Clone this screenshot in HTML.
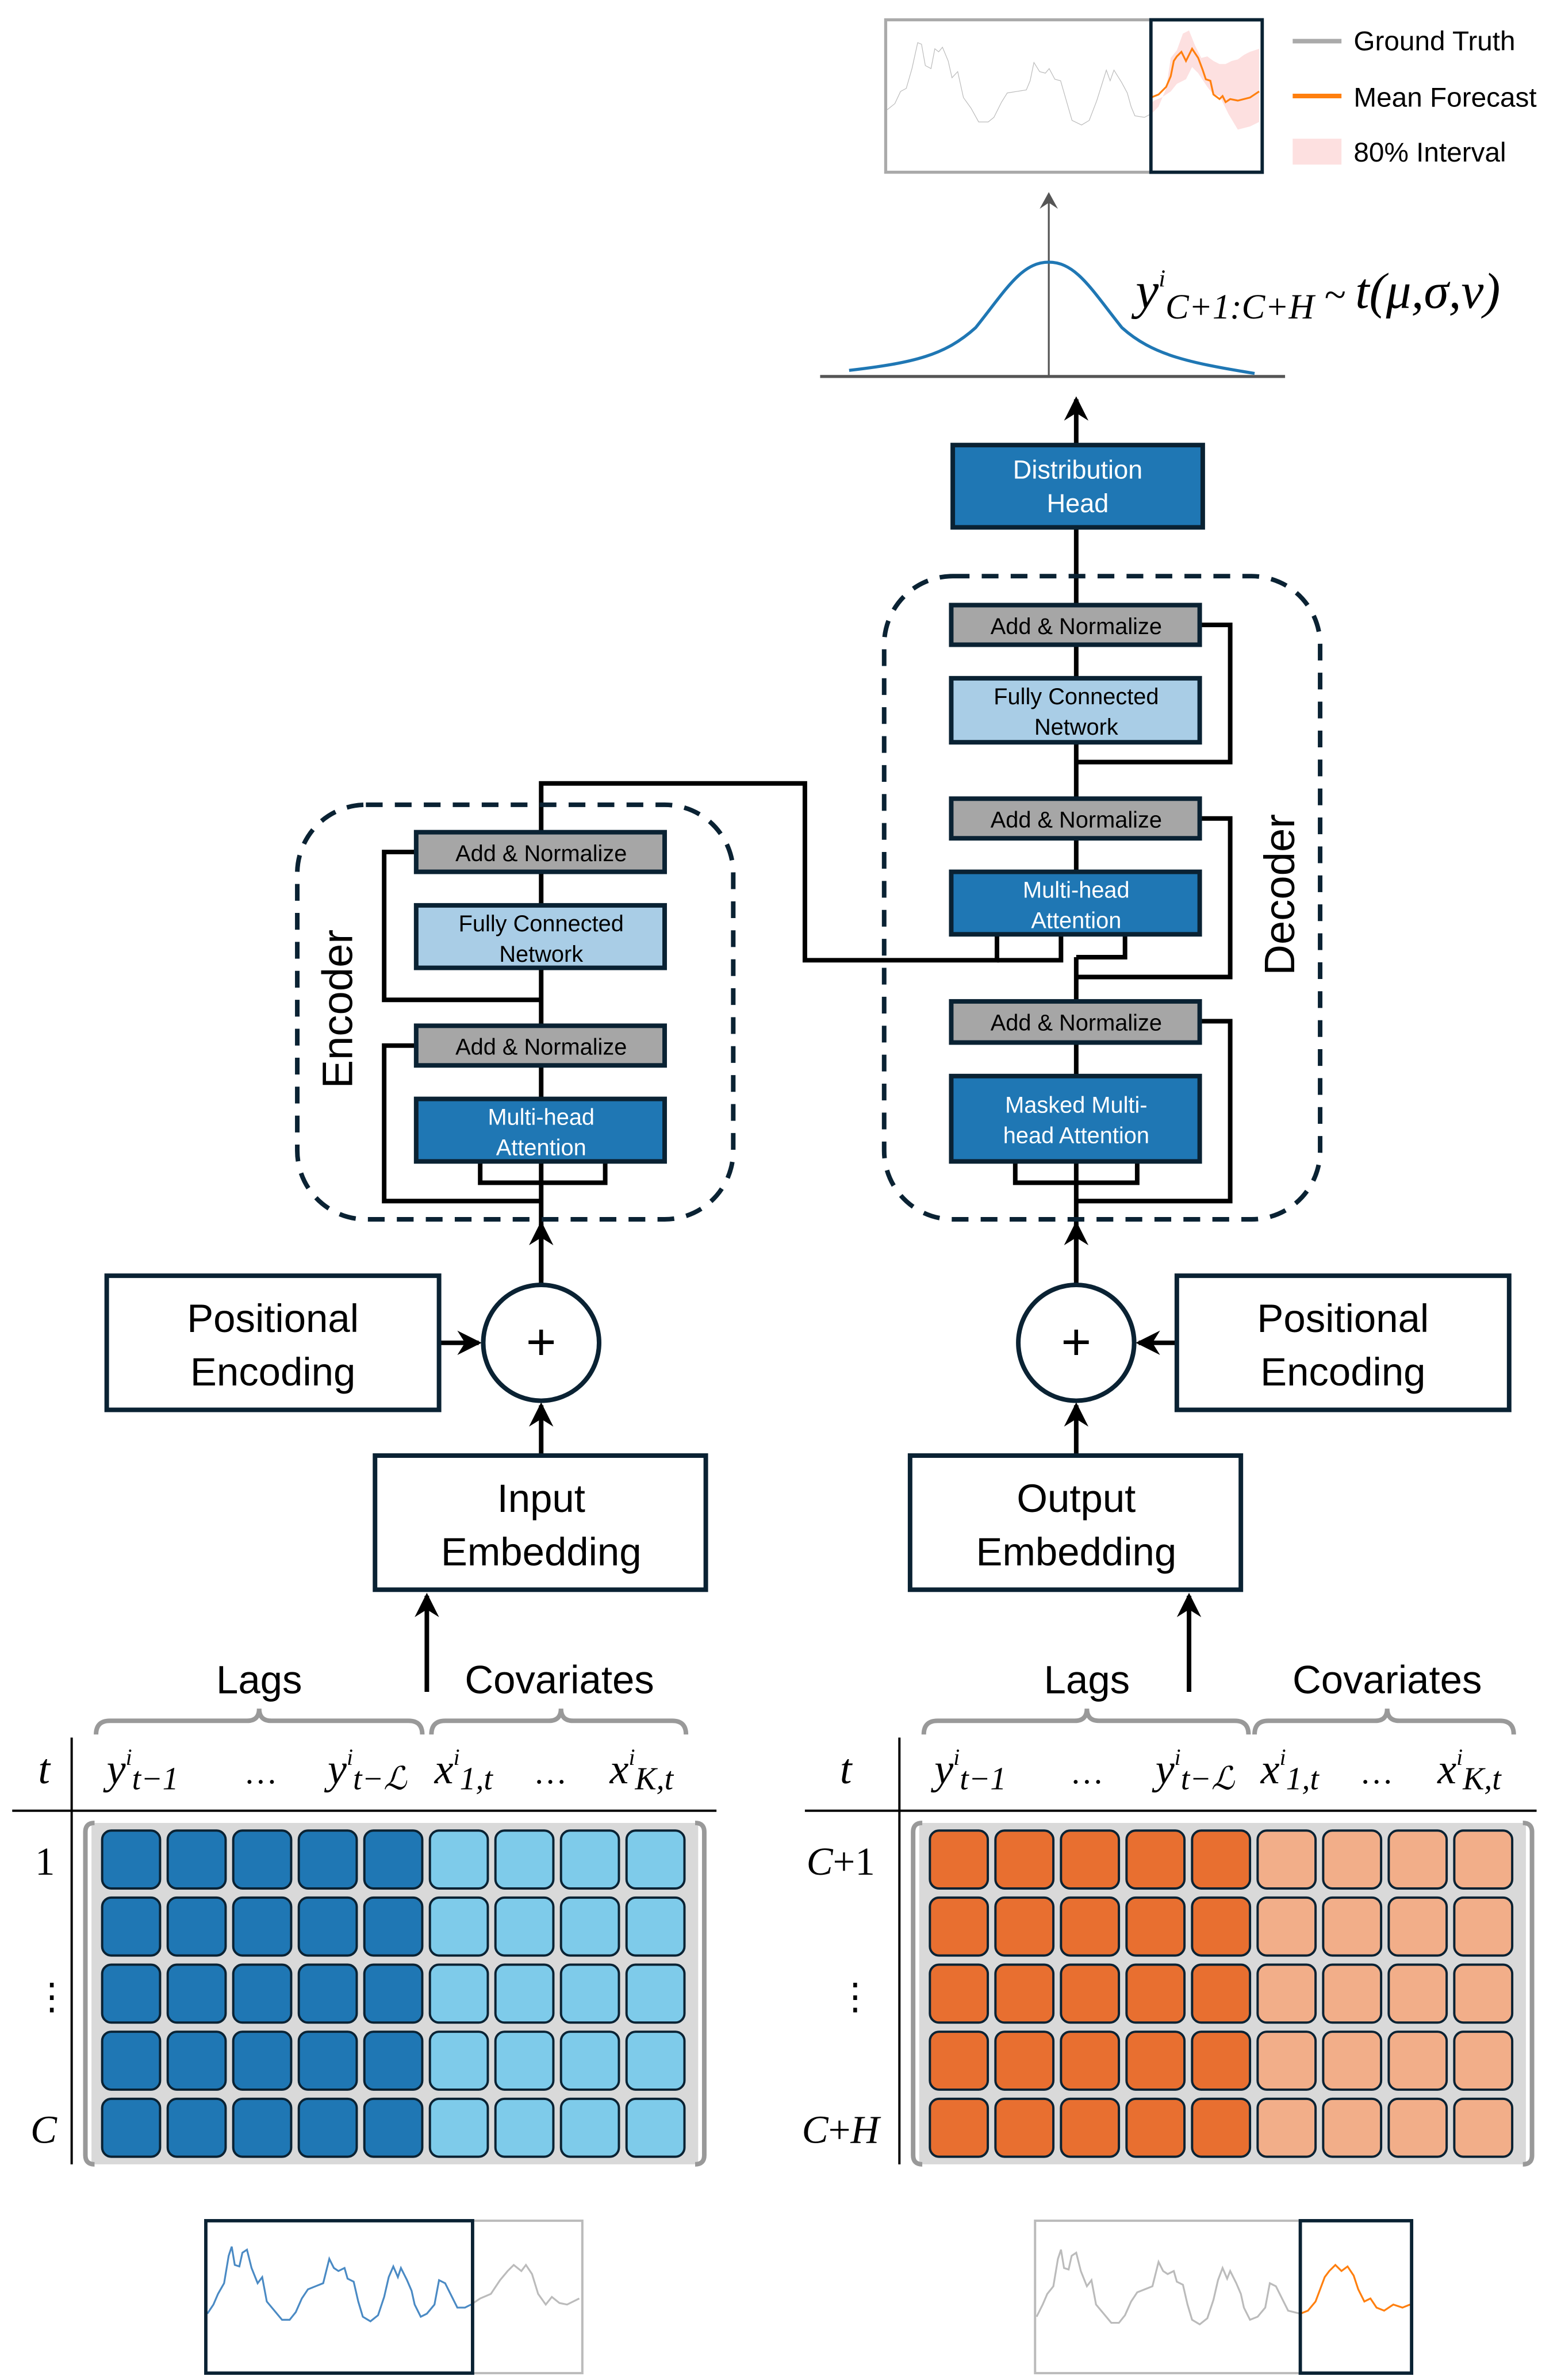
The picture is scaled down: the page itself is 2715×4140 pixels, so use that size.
<!DOCTYPE html>
<html><head><meta charset="utf-8"><style>html,body{margin:0;padding:0;background:#fff}svg{display:block}</style></head>
<body>
<svg width="2715" height="4140" viewBox="0 0 1024 1561.5" xmlns="http://www.w3.org/2000/svg" font-family="Liberation Sans, sans-serif">
<defs>
<marker id="ahb" markerWidth="18" markerHeight="18" refX="14" refY="9" orient="auto" markerUnits="userSpaceOnUse"><path d="M0,1 L16,9 L0,17 L5,9 Z" fill="#000"/></marker>
<marker id="ahg" markerWidth="12" markerHeight="12" refX="10" refY="6" orient="auto" markerUnits="userSpaceOnUse"><path d="M0,0 L11,6 L0,12 L4,6 Z" fill="#555"/></marker>
</defs>

<!-- top chart -->
<rect x="581" y="13" width="247" height="100" fill="#fff" stroke="#aaa" stroke-width="2"/>
<polyline transform="translate(582,0) scale(1.25,1) translate(-582,0)" vector-effect="non-scaling-stroke" fill="none" stroke="#bbb" stroke-width="1.2" points="582,72 586,68 589,60 592,58 595,45 598,28 600,29 602,43 605,45 607,32 609,34 611,31 614,40 616,51 619,47 622,64 626,71 630,80 635,80 638,77 642,67 645,61 650,60 655,59 657,53 659,41 662,47 665,48 667,45 670,52 673,53 676,66 679,79 684,82 688,79 692,66 695,54 697,46 699,53 701,46 705,54 708,61 710,70 712,76 717,77 720,75"/>
<path d="M755,75 L760,70 765,58 768,38 772,33 776,22 780,20 784,30 788,38 792,37 796,40 800,42 804,42 808,40 812,39 816,36 820,34 826,32 826,80 820,83 812,85 806,75 800,63 796,62 792,57 786,48 782,44 778,52 772,55 768,60 762,64 757,66 755,68 Z" fill="#fde0e0"/>
<polyline fill="none" stroke="#ff7f0e" stroke-width="1.2" points="755,64 760,62 765,57 768,50 770,40 772,37 775,34 778,40 782,32 786,38 789,46 791,52 794,53 796,62 800,65 802,63 804,67 807,65 812,66 820,64 826,60"/>
<rect x="755" y="13" width="73" height="100" fill="none" stroke="#0a2233" stroke-width="2.2"/>
<line x1="848" y1="27" x2="880" y2="27" stroke="#aaa" stroke-width="3"/>
<text x="888" y="33" font-size="18">Ground Truth</text>
<line x1="848" y1="63" x2="880" y2="63" stroke="#ff7f0e" stroke-width="3"/>
<text x="888" y="70" font-size="18">Mean Forecast</text>
<rect x="848" y="91" width="32" height="17" fill="#fde0e0"/>
<text x="888" y="106" font-size="18">80% Interval</text>

<!-- distribution -->
<line x1="688" y1="247" x2="688" y2="127" stroke="#555" stroke-width="1.2" marker-end="url(#ahg)"/>
<line x1="538" y1="247" x2="843" y2="247" stroke="#555" stroke-width="2"/>
<path d="M557,243 C600,238 620,233 640,215 C660,190 670,172 688,172 C706,172 716,190 736,215 C756,233 780,238 823,245" fill="none" stroke="#1f77b4" stroke-width="2"/>
<text x="745" y="202" font-family="Liberation Serif, serif" font-style="italic" font-size="34">y<tspan font-size="16" dy="-14">i</tspan><tspan font-size="23" dy="21">C+1:C+H</tspan><tspan font-size="26" dy="-7"> ~ </tspan><tspan font-size="33">t(μ,σ,ν)</tspan></text>

<g stroke="#000" stroke-width="3" fill="none">
<line x1="706" y1="292" x2="706" y2="262" marker-end="url(#ahb)"/>
<line x1="706" y1="397" x2="706" y2="346"/>
<line x1="706" y1="445" x2="706" y2="423"/>
<line x1="706" y1="524" x2="706" y2="487"/>
<line x1="706" y1="572" x2="706" y2="550"/>
<line x1="706" y1="657" x2="706" y2="628"/>
<polyline points="706,628 738,628 738,613"/>
<polyline points="654,613 654,630 528,630 528,514 355,514 355,546"/>
<polyline points="696,613 696,630 654,630"/>
<line x1="706" y1="706" x2="706" y2="684"/>
<line x1="706" y1="840" x2="706" y2="762" />
<polyline points="666,762 666,776 746,776 746,762"/>
<polyline points="787,410 807,410 807,500 706,500"/>
<polyline points="787,537 807,537 807,641 706,641"/>
<polyline points="787,670 807,670 807,788 706,788"/>
<line x1="706" y1="842" x2="706" y2="803" marker-end="url(#ahb)"/>
<line x1="706" y1="955" x2="706" y2="922" marker-end="url(#ahb)"/>
<line x1="772" y1="881" x2="747" y2="881" marker-end="url(#ahb)"/>
<line x1="780" y1="1110" x2="780" y2="1047" marker-end="url(#ahb)"/>

<line x1="355" y1="594" x2="355" y2="572"/>
<line x1="355" y1="673" x2="355" y2="635"/>
<line x1="355" y1="721" x2="355" y2="699"/>
<line x1="355" y1="840" x2="355" y2="762"/>
<polyline points="315,762 315,776 397,776 397,762"/>
<polyline points="273,559 252,559 252,656 355,656"/>
<polyline points="273,686 252,686 252,788 355,788"/>
<line x1="355" y1="842" x2="355" y2="803" marker-end="url(#ahb)"/>
<line x1="355" y1="955" x2="355" y2="922" marker-end="url(#ahb)"/>
<line x1="288" y1="881" x2="314" y2="881" marker-end="url(#ahb)"/>
<line x1="280" y1="1110" x2="280" y2="1047" marker-end="url(#ahb)"/>
</g>

<rect x="195" y="528" width="286" height="272" rx="45" fill="none" stroke="#0a2233" stroke-width="3" stroke-dasharray="11,8"/>
<rect x="580" y="378" width="286" height="422" rx="45" fill="none" stroke="#0a2233" stroke-width="3" stroke-dasharray="11,8"/>
<text transform="translate(231,662) rotate(-90)" text-anchor="middle" font-size="28">Encoder</text>
<text transform="translate(849,587) rotate(-90)" text-anchor="middle" font-size="28">Decoder</text>

<g stroke="#0a2233" stroke-width="3">
<rect x="625" y="292" width="164" height="54" fill="#1f77b4"/>
<rect x="624" y="397" width="163" height="26" fill="#a6a6a6"/>
<rect x="624" y="445" width="163" height="42" fill="#a9cde6"/>
<rect x="624" y="524" width="163" height="26" fill="#a6a6a6"/>
<rect x="624" y="572" width="163" height="41" fill="#1f77b4"/>
<rect x="624" y="657" width="163" height="27" fill="#a6a6a6"/>
<rect x="624" y="706" width="163" height="56" fill="#1f77b4"/>
<rect x="273" y="546" width="163" height="26" fill="#a6a6a6"/>
<rect x="273" y="594" width="163" height="41" fill="#a9cde6"/>
<rect x="273" y="673" width="163" height="26" fill="#a6a6a6"/>
<rect x="273" y="721" width="163" height="41" fill="#1f77b4"/>
<rect x="70" y="837" width="218" height="88" fill="#fff"/>
<rect x="246" y="955" width="217" height="88" fill="#fff"/>
<rect x="772" y="837" width="218" height="88" fill="#fff"/>
<rect x="597" y="955" width="217" height="88" fill="#fff"/>
<circle cx="355" cy="881" r="38" fill="#fff"/>
<circle cx="706" cy="881" r="38" fill="#fff"/>
</g>
<g font-size="15" text-anchor="middle">
<text x="707" y="314" font-size="17" fill="#fff">Distribution</text>
<text x="707" y="336" font-size="17" fill="#fff">Head</text>
<text x="706" y="416">Add &amp; Normalize</text>
<text x="706" y="462">Fully Connected</text>
<text x="706" y="482">Network</text>
<text x="706" y="543">Add &amp; Normalize</text>
<text x="706" y="589" fill="#fff">Multi-head</text>
<text x="706" y="609" fill="#fff">Attention</text>
<text x="706" y="676">Add &amp; Normalize</text>
<text x="706" y="730" fill="#fff">Masked Multi-</text>
<text x="706" y="750" fill="#fff">head Attention</text>
<text x="355" y="565">Add &amp; Normalize</text>
<text x="355" y="611">Fully Connected</text>
<text x="355" y="631">Network</text>
<text x="355" y="692">Add &amp; Normalize</text>
<text x="355" y="738" fill="#fff">Multi-head</text>
<text x="355" y="758" fill="#fff">Attention</text>
</g>
<g font-size="26" text-anchor="middle">
<text x="179" y="874">Positional</text><text x="179" y="909">Encoding</text>
<text x="881" y="874">Positional</text><text x="881" y="909">Encoding</text>
<text x="355" y="992">Input</text><text x="355" y="1027">Embedding</text>
<text x="706" y="992">Output</text><text x="706" y="1027">Embedding</text>
<text x="170" y="1111">Lags</text><text x="367" y="1111">Covariates</text>
<text x="713" y="1111">Lags</text><text x="910" y="1111">Covariates</text>
</g>
<text x="355" y="892" font-size="34" text-anchor="middle">+</text>
<text x="706" y="892" font-size="34" text-anchor="middle">+</text>

<g fill="none" stroke="#999" stroke-width="3">
<path d="M63,1138 Q63,1129 72,1129 L162,1129 Q170,1129 170,1121 Q170,1129 178,1129 L268,1129 Q277,1129 277,1138"/>
<path d="M283,1138 Q283,1129 292,1129 L360,1129 Q368,1129 368,1121 Q368,1129 376,1129 L441,1129 Q450,1129 450,1138"/>
<path d="M606,1138 Q606,1129 615,1129 L705,1129 Q713,1129 713,1121 Q713,1129 721,1129 L810,1129 Q819,1129 819,1138"/>
<path d="M823,1138 Q823,1129 832,1129 L902,1129 Q910,1129 910,1121 Q910,1129 918,1129 L984,1129 Q993,1129 993,1138"/>
</g>

<g font-family="Liberation Serif, serif" font-style="italic" font-size="28">
<text x="25" y="1170">t</text>
<text x="70" y="1170">y<tspan font-size="15" dy="-12">i</tspan><tspan font-size="21" dy="16">t−1</tspan></text>
<text x="160" y="1170" font-style="normal" font-size="22">…</text>
<text x="215" y="1170">y<tspan font-size="15" dy="-12">i</tspan><tspan font-size="21" dy="16">t−ℒ</tspan></text>
<text x="285" y="1170">x<tspan font-size="15" dy="-12">i</tspan><tspan font-size="21" dy="16">1,t</tspan></text>
<text x="350" y="1170" font-style="normal" font-size="22">…</text>
<text x="400" y="1170">x<tspan font-size="15" dy="-12">i</tspan><tspan font-size="21" dy="16">K,t</tspan></text>
<text x="23" y="1230" font-style="normal" font-size="26">1</text>
<text x="22" y="1318" font-style="normal" font-size="24">⋮</text>
<text x="20" y="1406" font-size="26">C</text>

<text x="551" y="1170">t</text>
<text x="613" y="1170">y<tspan font-size="15" dy="-12">i</tspan><tspan font-size="21" dy="16">t−1</tspan></text>
<text x="702" y="1170" font-style="normal" font-size="22">…</text>
<text x="758" y="1170">y<tspan font-size="15" dy="-12">i</tspan><tspan font-size="21" dy="16">t−ℒ</tspan></text>
<text x="827" y="1170">x<tspan font-size="15" dy="-12">i</tspan><tspan font-size="21" dy="16">1,t</tspan></text>
<text x="892" y="1170" font-style="normal" font-size="22">…</text>
<text x="943" y="1170">x<tspan font-size="15" dy="-12">i</tspan><tspan font-size="21" dy="16">K,t</tspan></text>
<text x="529" y="1230" font-size="26">C<tspan font-style="normal">+1</tspan></text>
<text x="549" y="1318" font-style="normal" font-size="24">⋮</text>
<text x="526" y="1406" font-size="26">C<tspan font-style="normal">+</tspan>H</text>
</g>
<g stroke="#000" stroke-width="1.5">
<line x1="8" y1="1188" x2="470" y2="1188"/><line x1="47" y1="1140" x2="47" y2="1420"/>
<line x1="528" y1="1188" x2="1008" y2="1188"/><line x1="590" y1="1140" x2="590" y2="1420"/>
</g>

<rect x="60" y="1196" width="398" height="224" fill="#d9d9d9"/>
<rect x="603" y="1196" width="398" height="224" fill="#d9d9d9"/>
<g fill="none" stroke="#999" stroke-width="3">
<path d="M62,1196 Q56,1196 56,1202 L56,1414 Q56,1420 62,1420"/><path d="M456,1196 Q462,1196 462,1202 L462,1414 Q462,1420 456,1420"/>
<path d="M605,1196 Q599,1196 599,1202 L599,1414 Q599,1420 605,1420"/><path d="M999,1196 Q1005,1196 1005,1202 L1005,1414 Q1005,1420 999,1420"/>
</g>
<g stroke="#0a2233" stroke-width="1.5">
<g id="row">
<rect x="67" y="1201" width="38" height="38" rx="6" fill="#1f77b4"/>
<rect x="110" y="1201" width="38" height="38" rx="6" fill="#1f77b4"/>
<rect x="153" y="1201" width="38" height="38" rx="6" fill="#1f77b4"/>
<rect x="196" y="1201" width="38" height="38" rx="6" fill="#1f77b4"/>
<rect x="239" y="1201" width="38" height="38" rx="6" fill="#1f77b4"/>
<rect x="282" y="1201" width="38" height="38" rx="6" fill="#7ecbea"/>
<rect x="325" y="1201" width="38" height="38" rx="6" fill="#7ecbea"/>
<rect x="368" y="1201" width="38" height="38" rx="6" fill="#7ecbea"/>
<rect x="411" y="1201" width="38" height="38" rx="6" fill="#7ecbea"/>
</g>
<use href="#row" y="44"/><use href="#row" y="88"/><use href="#row" y="132"/><use href="#row" y="176"/>
</g>
<g stroke="#0a2233" stroke-width="1.5">
<g id="row2">
<rect x="610" y="1201" width="38" height="38" rx="6" fill="#e86f30"/>
<rect x="653" y="1201" width="38" height="38" rx="6" fill="#e86f30"/>
<rect x="696" y="1201" width="38" height="38" rx="6" fill="#e86f30"/>
<rect x="739" y="1201" width="38" height="38" rx="6" fill="#e86f30"/>
<rect x="782" y="1201" width="38" height="38" rx="6" fill="#e86f30"/>
<rect x="825" y="1201" width="38" height="38" rx="6" fill="#f2ae89"/>
<rect x="868" y="1201" width="38" height="38" rx="6" fill="#f2ae89"/>
<rect x="911" y="1201" width="38" height="38" rx="6" fill="#f2ae89"/>
<rect x="954" y="1201" width="38" height="38" rx="6" fill="#f2ae89"/>
</g>
<use href="#row2" y="44"/><use href="#row2" y="88"/><use href="#row2" y="132"/><use href="#row2" y="176"/>
</g>

<rect x="135" y="1457" width="247" height="100" fill="#fff" stroke="#bbb" stroke-width="1.5"/>
<polyline fill="none" stroke="#4a8ac4" stroke-width="1.2" points="136,1518 140,1512 143,1505 147,1498 150,1480 152,1474 154,1486 157,1487 159,1478 162,1476 165,1488 169,1498 172,1494 175,1510 180,1516 185,1522 190,1522 194,1517 198,1508 202,1502 207,1500 212,1498 214,1490 216,1482 219,1488 222,1490 226,1488 228,1495 232,1497 235,1510 238,1520 243,1523 248,1519 252,1507 255,1494 258,1487 261,1494 263,1488 267,1496 270,1503 272,1512 276,1520 280,1518 285,1512 288,1496 292,1498 296,1506 300,1514 305,1514 309,1512"/>
<polyline fill="none" stroke="#bbb" stroke-width="1.2" points="309,1512 315,1508 322,1505 328,1496 333,1490 337,1486 342,1490 345,1486 349,1492 353,1505 358,1512 362,1507 367,1511 372,1512 380,1508"/>
<rect x="135" y="1457" width="175" height="100" fill="none" stroke="#0a2233" stroke-width="2.2"/>

<rect x="679" y="1457" width="247" height="100" fill="#fff" stroke="#bbb" stroke-width="1.5"/>
<polyline fill="none" stroke="#bbb" stroke-width="1.2" points="680,1520 684,1512 687,1505 691,1500 694,1482 696,1476 698,1488 701,1489 703,1480 706,1478 709,1490 713,1500 716,1496 719,1512 724,1518 729,1524 734,1524 738,1519 742,1510 746,1504 751,1502 756,1500 758,1492 760,1484 763,1490 766,1492 770,1490 772,1497 776,1499 779,1512 782,1522 787,1525 792,1521 796,1509 799,1496 802,1488 805,1495 807,1490 811,1498 814,1505 816,1514 820,1522 825,1520 830,1514 833,1498 837,1500 841,1508 845,1516 853,1518"/>
<polyline fill="none" stroke="#ff7f0e" stroke-width="1.2" points="853,1518 858,1516 863,1510 866,1502 869,1494 872,1490 876,1486 880,1490 884,1487 888,1493 891,1502 895,1510 899,1508 903,1514 908,1516 914,1512 920,1514 925,1512"/>
<rect x="853" y="1457" width="73" height="100" fill="none" stroke="#0a2233" stroke-width="2.2"/>
</svg>
</body></html>
